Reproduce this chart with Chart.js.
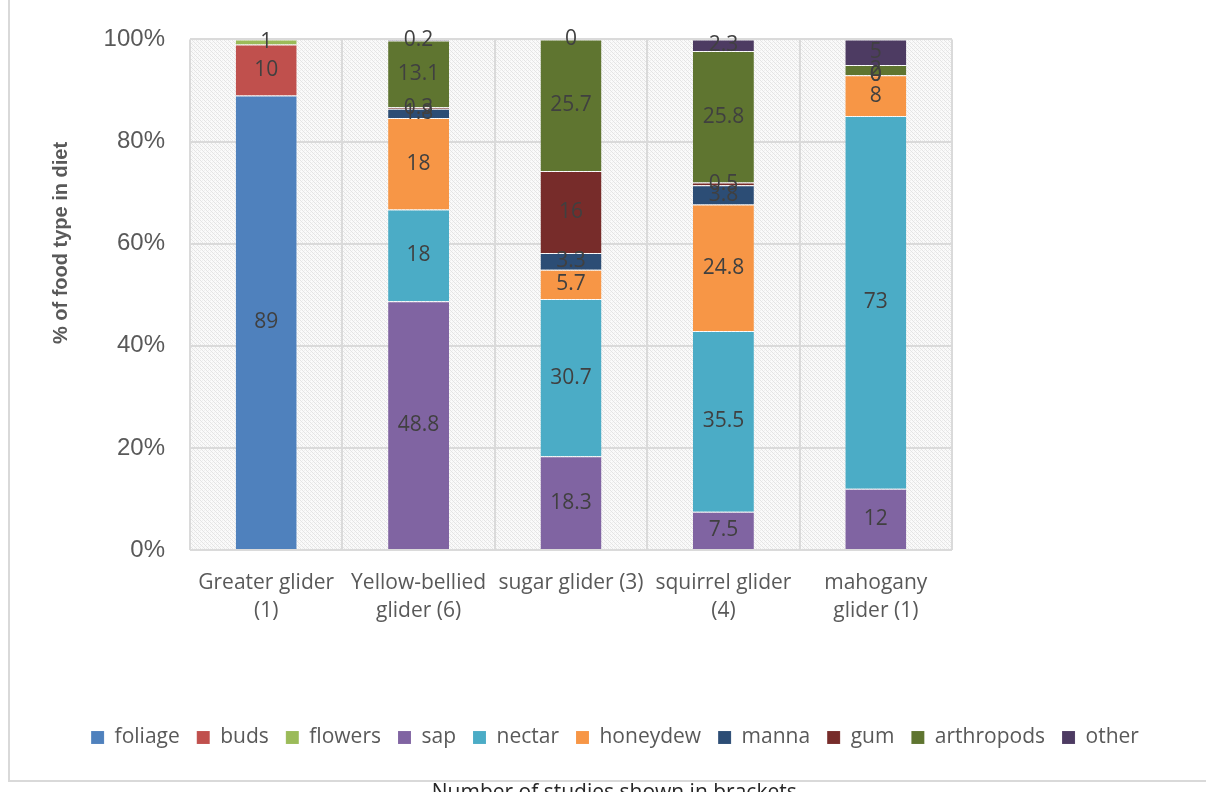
<!DOCTYPE html>
<html>
<head>
<meta charset="utf-8">
<script src="https://cdn.jsdelivr.net/npm/chart.js@4.4.1/dist/chart.umd.min.js"></script>
<style>
  html, body { margin: 0; padding: 0; background: #ffffff; overflow: hidden; }
  #wrap { position: relative; width: 1206px; height: 792px; }
</style>
</head>
<body>
<div id="wrap"><canvas id="c" width="1206" height="792"></canvas></div>
<script>
// ---------- DATA ----------
const categories = [
  ["Greater glider", "(1)"],
  ["Yellow-bellied", "glider (6)"],
  ["sugar glider (3)"],
  ["squirrel glider", "(4)"],
  ["mahogany", "glider (1)"]
];
const seriesNames = ["foliage", "buds", "flowers", "sap", "nectar", "honeydew", "manna", "gum", "arthropods", "other"];
const foliage    = [89,   null, null, null, null];
const buds       = [10,   null, null, null, null];
const flowers    = [1,    null, null, null, null];
const sap        = [null, 48.8, 18.3, 7.5,  12];
const nectar     = [null, 18,   30.7, 35.5, 73];
const honeydew   = [null, 18,   5.7,  24.8, 8];
const manna      = [null, 1.8,  3.3,  3.8,  0];
const gum        = [null, 0.3,  16,   0.5,  0];
const arthropods = [null, 13.1, 25.7, 25.8, 2];
const other      = [null, 0.2,  0,    2.3,  5];
const yTickValues = [0, 20, 40, 60, 80, 100];
const yTitle = "% of food type in diet";
const caption = "Number of studies shown in brackets.";

const seriesValues = [foliage, buds, flowers, sap, nectar, honeydew, manna, gum, arthropods, other];
const seriesColors = ["#4F81BD", "#C0504D", "#9BBB59", "#8064A2", "#4BACC6", "#F79646", "#2C4D75", "#772C2A", "#5F7530", "#4D3B62"];

// 100% stacked: share of each category total
const totals = categories.map((_, j) => seriesValues.reduce((s, arr) => s + (arr[j] == null ? 0 : arr[j]), 0));
const datasets = seriesNames.map((name, i) => ({
  label: name,
  data: seriesValues[i].map((v, j) => v == null ? null : v / totals[j] * 100),
  backgroundColor: seriesColors[i],
  borderColor: "rgba(255,255,255,0.4)",
  borderWidth: { top: 1, bottom: 0, left: 0, right: 0 },
  borderSkipped: false,
  barPercentage: 0.4,
  categoryPercentage: 1.0
}));

// ---------- background pattern ----------
const pc = document.createElement("canvas");
pc.width = 4; pc.height = 4;
const px = pc.getContext("2d");
px.fillStyle = "#fafafa"; px.fillRect(0, 0, 4, 4);
px.fillStyle = "#e4e4e4";
px.fillRect(0, 0, 1, 1); px.fillRect(1, 1, 1, 1); px.fillRect(2, 2, 1, 1); px.fillRect(3, 3, 1, 1);
px.fillStyle = "#efefef";
px.fillRect(2, 0, 1, 1); px.fillRect(0, 2, 1, 1);

const extras = {
  id: "extras",
  beforeDraw(chart) {
    const ctx = chart.ctx, a = chart.chartArea;
    ctx.save();
    ctx.fillStyle = "#ffffff";
    ctx.fillRect(0, 0, chart.width, chart.height);
    // outer chart border
    ctx.strokeStyle = "#d9d9d9";
    ctx.lineWidth = 2;
    ctx.strokeRect(9, -20, 1230, 801);
    // plot area texture
    ctx.fillStyle = ctx.createPattern(pc, "repeat");
    ctx.fillRect(a.left, a.top, a.right - a.left, a.bottom - a.top);
    ctx.restore();
  },
  afterDatasetsDraw(chart) {
    const ctx = chart.ctx;
    ctx.save();
    ctx.font = "21px 'Open Sans'";
    ctx.fillStyle = "#404040";
    ctx.textAlign = "center";
    ctx.textBaseline = "middle";
    chart.data.datasets.forEach((ds, i) => {
      const meta = chart.getDatasetMeta(i);
      meta.data.forEach((el, j) => {
        const raw = seriesValues[i][j];
        if (raw == null) return;
        const y = (el.y + el.base) / 2;
        ctx.fillText(String(raw), el.x, y);
      });
    });
    ctx.restore();
  },
  afterDraw(chart) {
    const ctx = chart.ctx;
    ctx.save();
    // y-axis title
    ctx.translate(61, 243);
    ctx.rotate(-Math.PI / 2);
    ctx.font = "bold 20px 'Liberation Sans'";
    ctx.fillStyle = "#595959";
    ctx.textAlign = "center";
    ctx.textBaseline = "middle";
    ctx.fillText(yTitle, 0, 0);
    ctx.restore();
    ctx.save();
    ctx.font = "21px 'Open Sans'";
    ctx.fillStyle = "#262626";
    ctx.textAlign = "center";
    ctx.textBaseline = "alphabetic";
    ctx.fillText(caption, 617, 799);
    ctx.restore();
  }
};

new Chart(document.getElementById("c"), {
  type: "bar",
  data: { labels: categories, datasets },
  plugins: [extras],
  options: {
    responsive: false,
    animation: false,
    layout: { padding: { left: 24, right: 0, top: 35.6, bottom: 34 } },
    plugins: {
      legend: {
        position: "bottom",
        labels: {
          boxWidth: 13, boxHeight: 13, padding: 17,
          color: "#595959",
          font: { family: "'Open Sans'", size: 21 }
        }
      },
      tooltip: { enabled: false }
    },
    scales: {
      x: {
        stacked: true,
        offset: true,
        grid: { offset: true, color: "#dadada", lineWidth: 2, drawTicks: false },
        border: { display: false },
        ticks: {
          color: "#595959", padding: 19, maxRotation: 0, autoSkip: false,
          font: { family: "'Open Sans'", size: 21, lineHeight: 1.33 }
        },
        afterFit(s) { s.height = 160; }
      },
      y: {
        stacked: true,
        min: 0, max: 100,
        afterBuildTicks(s) { s.ticks = yTickValues.map(v => ({ value: v })); },
        grid: { color: "#dadada", lineWidth: 2, drawTicks: false },
        border: { display: false },
        ticks: {
          color: "#595959", padding: 25,
          font: { family: "'Liberation Sans'", size: 24 },
          callback: v => v + "%"
        },
        afterFit(s) { s.width = 166; }
      },
      y2: {
        position: "right",
        display: true,
        grid: { display: false, drawOnChartArea: false },
        border: { display: false },
        ticks: { display: false },
        afterFit(s) { s.width = 254; }
      }
    }
  }
});
</script>
</body>
</html>
